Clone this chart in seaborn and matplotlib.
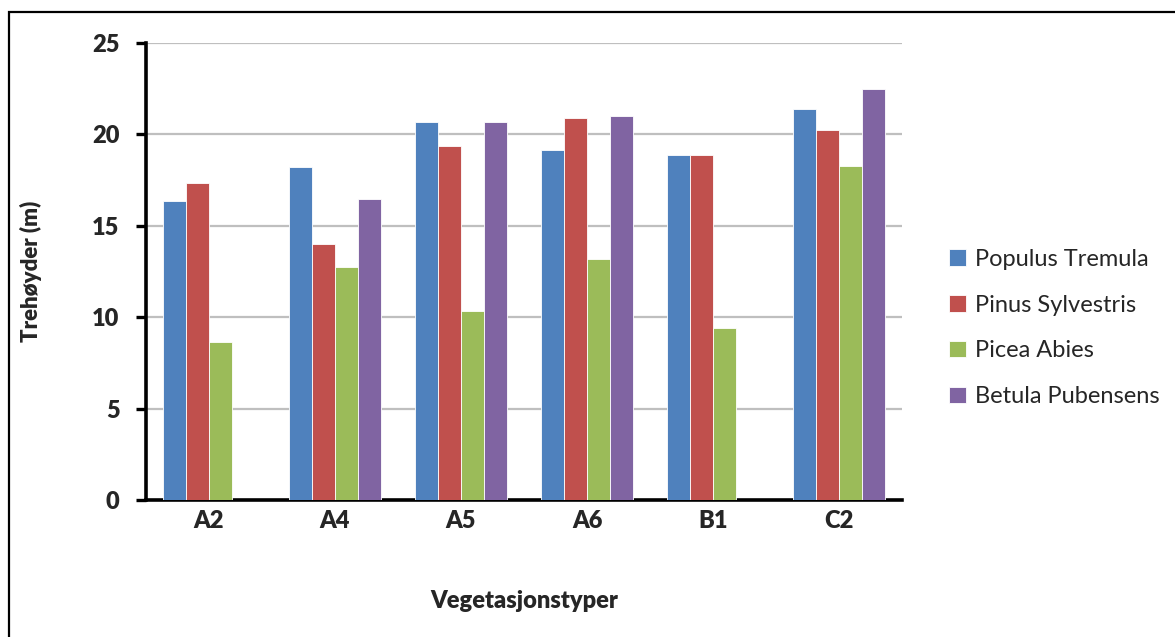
import numpy as np
import pandas as pd
import matplotlib
matplotlib.use("Agg")
import matplotlib.pyplot as plt
from matplotlib.patches import Rectangle
import seaborn as sns

# Mean tree heights (m) per vegetation type and species
vegetation_types = ["A2", "A4", "A5", "A6", "B1", "C2"]
species = ["Populus Tremula", "Pinus Sylvestris", "Picea Abies", "Betula Pubensens"]
populus_tremula = [16.33, 18.2, 20.67, 19.16, 18.89, 21.4]
pinus_sylvestris = [17.33, 14.0, 19.35, 20.91, 18.89, 20.26]
picea_abies = [8.65, 12.74, 10.33, 13.16, 9.43, 18.29]
betula_pubensens = [np.nan, 16.49, 20.67, 21.0, np.nan, 22.49]
y_ticks = [0, 5, 10, 15, 20, 25]

colors = ["#4F81BD", "#C0504D", "#9BBB59", "#8064A2"]

series = [populus_tremula, pinus_sylvestris, picea_abies, betula_pubensens]
df = pd.DataFrame({
    "Vegetasjonstyper": np.tile(vegetation_types, len(species)),
    "Art": np.repeat(species, len(vegetation_types)),
    "Høyde": np.concatenate(series),
})

sns.set_style("white")
plt.rcParams["font.family"] = ["Lato", "DejaVu Sans"]

W, H = 1175, 637
fig = plt.figure(figsize=(W / 100, H / 100), dpi=100)
ax = fig.add_axes([146 / W, 1 - 500 / H, (902 - 146) / W, (500 - 43) / H])

sns.barplot(data=df, x="Vegetasjonstyper", y="Høyde", hue="Art",
            order=vegetation_types, hue_order=species, palette=colors,
            width=0.73, saturation=1, errorbar=None, legend=True,
            edgecolor="white", linewidth=0.6, ax=ax, zorder=3)

ax.set_ylim(0, 25)
ax.set_xlim(-0.5, len(vegetation_types) - 0.5)
ax.set_yticks(y_ticks)
ax.set_yticklabels([str(v) for v in y_ticks], fontsize=17, fontweight="heavy")
ax.yaxis.grid(True, color="#BFBFBF", linewidth=1.6, zorder=0)
ax.set_axisbelow(True)

# Category labels without ticks; ticks sit on group boundaries
ax.set_xticks(range(len(vegetation_types)))
ax.set_xticklabels(vegetation_types, fontsize=17, fontweight="heavy")
ax.tick_params(axis="x", which="major", length=0, pad=7)
ax.set_xticks(np.arange(-0.5, len(vegetation_types)), minor=True)
ax.tick_params(axis="x", which="minor", length=7, width=2.4, direction="out", color="black")
ax.tick_params(axis="y", which="major", length=7, width=2.4, direction="out",
               color="black", pad=12, left=True)

for side in ["top", "right"]:
    ax.spines[side].set_visible(False)
for side in ["left", "bottom"]:
    ax.spines[side].set_color("black")
    ax.spines[side].set_linewidth(2.6)

ax.set_xlabel("Vegetasjonstyper", fontsize=17, fontweight="heavy", labelpad=42)
ax.set_ylabel("Trehøyder (m)", fontsize=16, fontweight="heavy", labelpad=36)

handles, labels = ax.get_legend_handles_labels()
ax.legend_.remove()
fig.legend(handles, labels, loc="center left",
           bbox_to_anchor=(928 / W, 1 - 328 / H), frameon=False,
           fontsize=17, handlelength=0.7, handleheight=0.7,
           handletextpad=0.4, labelspacing=1.05)

# Outer frame around the chart area
fig.patches.append(Rectangle((9 / W, -0.1), 1.2, 1 - 12 / H + 0.1,
                             transform=fig.transFigure, fill=False,
                             edgecolor="black", linewidth=1.6))

fig.savefig("out.png", dpi=100)
